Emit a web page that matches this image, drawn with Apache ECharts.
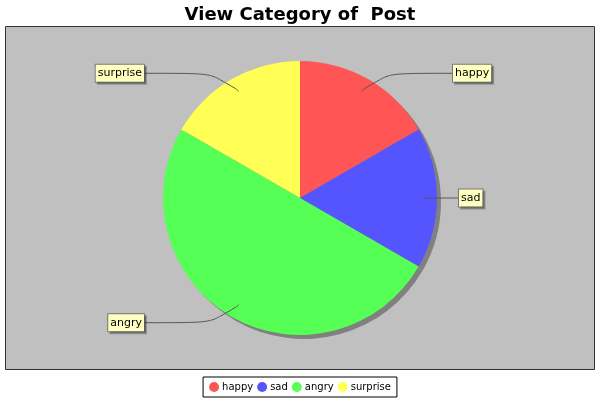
<!DOCTYPE html>
<html>
<head>
<meta charset="utf-8">
<script src="https://cdn.jsdelivr.net/npm/echarts@6/dist/echarts.min.js"></script>
<style>
    html, body { margin: 0; padding: 0; background: #fff; }
    #chart { width: 600px; height: 400px; }
</style>
</head>
<body>
<div id="chart"></div>
<script>
    const categories = ['happy', 'sad', 'angry', 'surprise']
    const counts = [1, 1, 3, 1]
    const colors = ['#ff5555', '#5555ff', '#55ff55', '#ffff55']
    // per-label leader line lengths (radial, horizontal)
    const lineLen = [21, 21, 21, 21]
    const lineLen2 = [81, 15, 84, 84]

    const center = [300, 198]
    const radius = 137

    const chart = echarts.init(document.getElementById('chart'), null, { renderer: 'canvas' })

    const mainData = categories.map((name, i) => ({
        name, value: counts[i], itemStyle: { color: colors[i] }
    }))
    const shadowData = categories.map((name, i) => ({ name, value: counts[i] }))
    const labelData = categories.map((name, i) => ({
        name, value: counts[i],
        labelLine: { length: lineLen[i], length2: lineLen2[i] }
    }))

    chart.setOption({
        animation: false,
        title: {
            text: 'View Category of  Post',
            left: 'center',
            top: 1,
            textStyle: { fontFamily: 'DejaVu Sans', fontWeight: 'bold', fontSize: 18, color: '#000' }
        },
        graphic: [{
            type: 'rect',
            z: -10,
            shape: { x: 5.5, y: 26.5, width: 589, height: 343 },
            style: { fill: '#c0c0c0', stroke: '#333', lineWidth: 1 }
        }],
        legend: {
            bottom: 3,
            left: 'center',
            icon: 'circle',
            itemWidth: 10,
            itemHeight: 10,
            itemGap: 4,
            padding: [5, 6],
            backgroundColor: '#fff',
            borderColor: '#000',
            borderWidth: 1,
            borderRadius: 0,
            selectedMode: false,
            textStyle: { fontFamily: 'DejaVu Sans', fontSize: 10, color: '#000', padding: [0, 0, 0, -2] },
            data: categories.map((name, i) => ({ name, itemStyle: { color: colors[i] } }))
        },
        series: [
            {
                type: 'pie',
                center, radius,
                startAngle: 90,
                z: 3,
                silent: true,
                emphasis: { disabled: true },
                label: { show: false },
                labelLine: { show: false },
                itemStyle: { borderWidth: 0 },
                data: mainData
            },
            {
                type: 'pie',
                center: [center[0] + 4, center[1] + 4], radius,
                startAngle: 90,
                z: 2,
                silent: true,
                emphasis: { disabled: true },
                label: { show: false },
                labelLine: { show: false },
                itemStyle: { color: '#808080', borderWidth: 0 },
                data: shadowData
            },
            {
                type: 'pie',
                center, radius: 123,
                startAngle: 90,
                z: 4,
                silent: true,
                emphasis: { disabled: true },
                itemStyle: { color: 'rgba(0,0,0,0)', borderWidth: 0 },
                label: {
                    show: true,
                    alignTo: 'none',
                    distanceToLabelLine: 0,
                    fontFamily: 'DejaVu Sans',
                    fontSize: 11,
                    color: '#000',
                    backgroundColor: '#ffffc0',
                    borderColor: '#777',
                    borderWidth: 1,
                    padding: [2, 2, 2, 2],
                    lineHeight: 13,
                    shadowColor: 'rgba(0,0,0,0.25)',
                    shadowOffsetX: 2,
                    shadowOffsetY: 2,
                    shadowBlur: 0
                },
                labelLine: {
                    show: true,
                    smooth: 0.9,
                    lineStyle: { color: '#555', width: 1 }
                },
                data: labelData
            }
        ]
    })
</script>
</body>
</html>
